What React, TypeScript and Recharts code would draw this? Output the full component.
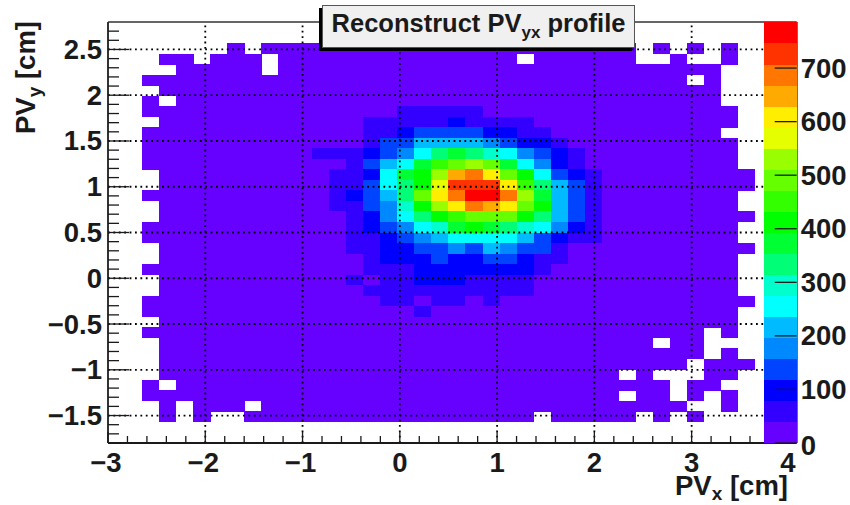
import React from "react";
import { ScatterChart, Scatter, XAxis, YAxis } from "recharts";

const WIDTH = 850, HEIGHT = 505;
const PLOT_LEFT = 108, PLOT_RIGHT = 796.7, PLOT_TOP = 22, PLOT_BOTTOM = 443;
const X_DOMAIN: [number, number] = [-3, 4.08];
const Y_DOMAIN: [number, number] = [-1.8, 2.8];
const Z_MAX = 786;
const PALETTE_X_START = 3.747;
const FONT = '"Liberation Sans", Arial, sans-serif';
const INK = "#1a1a1a";

const xMajorTicks = [-3, -2, -1, 0, 1, 2, 3, 4];
const xMinorTicks = [-2.8, -2.6, -2.4, -2.2, -1.8, -1.6, -1.4, -1.2, -0.8, -0.6, -0.4, -0.2, 0.2, 0.4, 0.6, 0.8, 1.2, 1.4, 1.6, 1.8, 2.2, 2.4, 2.6, 2.8, 3.2, 3.4, 3.6];
const yMajorTicks = [-1.5, -1, -0.5, 0, 0.5, 1, 1.5, 2, 2.5];
const yMinorTicks = [-1.7, -1.6, -1.4, -1.3, -1.2, -1.1, -0.9, -0.8, -0.7, -0.6, -0.4, -0.3, -0.2, -0.1, 0.1, 0.2, 0.3, 0.4, 0.6, 0.7, 0.8, 0.9, 1.1, 1.2, 1.3, 1.4, 1.6, 1.7, 1.8, 1.9, 2.1, 2.2, 2.3, 2.4, 2.6, 2.7];
const zTicks = [0, 100, 200, 300, 400, 500, 600, 700];
const xGridLines = [-2, -1, 0, 1, 2, 3];

const paletteColors = ["#6600ff", "#3300ff", "#0000ff", "#0044ff", "#0088ff", "#00bbff", "#00ffff", "#00ffcc", "#00ff77", "#00ff33", "#00ff00", "#33ff00", "#66ff00", "#99ff00", "#e6ff00", "#ffee00", "#ffaa00", "#ff7700", "#ff3300", "#ff0000"];

const X_BIN_START = -3, X_BIN = 0.175, Y_BIN_TOP = 2.8, Y_BIN = 0.115, FIRST_ROW = 2;

// entries per x bin, one row per y bin from the top; 0 = empty bin
const rowsTop: number[][] = [
  [0,0,0,0,0,0,0,20,0,20, 20,20,20,20,20,20,20,20,20,20, 20,20,20,20,20,20,20,20,20,20, 20,0,20,0,20,0,20,0,0,0],
  [0,0,0,20,20,0,20,20,20,0, 20,20,20,20,20,20,20,20,20,20, 20,20,20,20,0,20,20,20,20,20, 20,0,0,20,0,0,20,0,0,0],
  [0,0,0,0,20,20,20,20,20,0, 20,20,20,20,20,20,20,20,20,20, 20,20,20,20,20,20,20,20,20,20, 20,20,20,20,20,20,0,0,0,0],
  [0,0,20,20,20,20,20,20,20,20, 20,20,20,20,20,20,20,20,20,20, 20,20,20,20,20,20,20,20,20,20, 20,20,20,20,0,20,0,0,0,0],
  [0,0,0,20,20,20,20,20,20,20, 20,20,20,20,20,20,20,20,20,20, 20,20,20,20,20,20,20,20,20,20, 20,20,20,20,20,20,0,0,0,0],
  [0,0,20,0,20,20,20,20,20,20, 20,20,20,20,20,20,20,20,20,20, 20,20,20,20,20,20,20,20,20,20, 20,20,20,20,20,20,0,0,0,0],
  [0,0,20,20,20,20,20,20,20,20, 20,20,20,20,20,20,20,59,59,59, 59,59,20,20,20,20,20,20,20,20, 20,20,20,20,20,20,20,0,0,0],
  [0,0,0,20,20,20,20,20,20,20, 20,20,20,20,20,59,59,59,59,59, 98,59,59,59,59,20,20,20,20,20, 20,20,20,20,20,20,20,0,0,0],
];
const rowsCore: number[][] = [
  [0,0,20,20,20,20,20,20,20,20, 20,20,20,20,20,59,59,98,138,138, 138,138,98,98,59,59,20,20,20,20, 20,20,20,20,20,20,0,0,0,0],
  [0,0,20,20,20,20,20,20,20,20, 20,20,20,20,20,59,138,138,216,216, 216,216,177,138,98,98,59,20,20,20, 20,20,20,20,20,20,20,0,0,0],
  [0,0,20,20,20,20,20,20,20,20, 20,20,59,59,59,98,138,177,255,334, 373,334,295,255,177,138,98,59,20,20, 20,20,20,20,20,20,20,0,0,0],
  [0,0,20,20,20,20,20,20,20,20, 20,20,20,20,59,138,216,255,373,452, 491,531,491,373,255,177,98,59,20,20, 20,20,20,20,20,20,20,0,0,0],
  [0,0,0,20,20,20,20,20,20,20, 20,20,20,59,59,98,255,373,413,531, 649,688,609,491,413,255,138,98,59,20, 20,20,20,20,20,20,20,20,0,0],
  [0,0,0,20,20,20,20,20,20,20, 20,20,20,59,59,138,255,334,413,570, 727,727,727,609,452,334,216,138,59,20, 20,20,20,20,20,20,20,20,0,0],
  [0,0,20,20,20,20,20,20,20,20, 20,20,20,59,98,138,216,334,491,609, 688,767,767,688,531,373,216,138,59,20, 20,20,20,20,20,20,20,0,0,0],
  [0,0,0,20,20,20,20,20,20,20, 20,20,20,59,59,138,177,295,413,531, 609,688,649,609,491,413,216,138,59,20, 20,20,20,20,20,20,20,0,0,0],
  [0,0,0,20,20,20,20,20,20,20, 20,20,20,20,59,98,177,255,334,413, 452,491,491,491,413,334,216,138,59,20, 20,20,20,20,20,20,20,20,0,0],
  [0,0,20,20,20,20,20,20,20,20, 20,20,20,20,59,98,138,177,255,295, 373,413,373,334,295,255,177,98,59,20, 20,20,20,20,20,20,20,0,0,0],
  [0,0,20,20,20,20,20,20,20,20, 20,20,20,20,59,59,98,138,177,216, 255,255,255,255,216,138,98,59,59,20, 20,20,20,20,20,20,20,0,0,0],
  [0,0,0,20,20,20,20,20,20,20, 20,20,20,20,59,59,98,98,138,138, 177,138,216,177,138,138,59,20,20,20, 20,20,20,20,20,20,20,20,0,0],
  [0,0,0,20,20,20,20,20,20,20, 20,20,20,20,20,59,98,98,98,138, 98,98,138,138,98,59,59,20,20,20, 20,20,20,20,20,20,20,0,0,0],
  [0,0,20,20,20,20,20,20,20,20, 20,20,20,20,20,59,59,59,98,98, 98,98,98,98,98,59,20,20,20,20, 20,20,20,20,20,20,20,0,0,0],
  [0,0,0,20,20,20,20,20,20,20, 20,20,20,20,59,20,59,59,98,98, 98,59,59,59,59,20,20,20,20,20, 20,20,20,20,20,20,20,0,0,0],
  [0,0,0,20,20,20,20,20,20,20, 20,20,20,20,20,59,59,59,59,59, 59,59,59,59,59,20,20,20,20,20, 20,20,20,20,20,20,20,0,0,0],
  [0,0,20,20,20,20,20,20,20,20, 20,20,20,20,20,20,59,59,20,59, 59,20,59,20,20,20,20,20,20,20, 20,20,20,20,20,20,20,20,0,0],
  [0,0,20,20,20,20,20,20,20,20, 20,20,20,20,20,20,20,20,59,20, 20,20,20,20,20,20,20,20,20,20, 20,20,20,20,20,20,20,0,0,0],
];
const rowsBottom: number[][] = [
  [0,0,0,20,20,20,20,20,20,20, 20,20,20,20,20,20,20,20,20,20, 20,20,20,20,20,20,20,20,20,20, 20,20,20,20,20,20,20,0,0,0],
  [0,0,20,20,20,20,20,20,20,20, 20,20,20,20,20,20,20,20,20,20, 20,20,20,20,20,20,20,20,20,20, 20,20,20,20,20,0,20,0,0,0],
  [0,0,0,20,20,20,20,20,20,20, 20,20,20,20,20,20,20,20,20,20, 20,20,20,20,20,20,20,20,20,20, 20,20,0,20,20,0,0,0,0,0],
  [0,0,0,20,20,20,20,20,20,20, 20,20,20,20,20,20,20,20,20,20, 20,20,20,20,20,20,20,20,20,20, 20,20,20,20,20,0,20,0,0,0],
  [0,0,0,20,20,20,20,20,20,20, 20,20,20,20,20,20,20,20,20,20, 20,20,20,20,20,20,20,20,20,20, 20,20,20,20,0,20,20,20,0,0],
  [0,0,0,20,20,20,20,20,20,20, 20,20,20,20,20,20,20,20,20,20, 20,20,20,20,20,20,20,20,20,20, 0,20,0,0,0,20,20,0,0,0],
  [0,0,20,0,20,20,20,20,20,20, 20,20,20,20,20,20,20,20,20,20, 20,20,20,20,20,20,20,20,20,20, 20,20,20,0,20,20,0,0,0,0],
  [0,0,20,20,20,20,20,20,20,20, 20,20,20,20,20,20,20,20,20,20, 20,20,20,20,20,20,20,20,20,20, 0,20,20,0,20,0,20,0,0,0],
  [0,0,0,20,0,20,20,20,0,20, 20,20,20,20,20,20,20,20,20,20, 20,20,20,20,20,20,20,20,20,20, 20,20,20,20,0,0,20,0,0,0],
  [0,0,0,20,0,20,0,0,20,20, 20,20,20,20,20,20,20,20,20,20, 20,20,20,20,20,0,20,20,20,20, 20,0,20,0,20,0,0,0,0,0],
];

const countRows = [...rowsTop, ...rowsCore, ...rowsBottom];
const cells = countRows.flatMap((row, r) =>
  row
    .map((count, c) => ({
      x: X_BIN_START + X_BIN * (c + 0.5),
      y: Y_BIN_TOP - Y_BIN * (r + FIRST_ROW + 0.5),
      count,
    }))
    .filter((cell) => cell.count > 0)
);

const bandSize = Z_MAX / paletteColors.length;
const colorOf = (count: number) =>
  paletteColors[Math.min(paletteColors.length - 1, Math.floor(count / bandSize))];
const paletteBands = paletteColors.map((color, i) => ({
  x: (PALETTE_X_START + X_DOMAIN[1]) / 2,
  y: (i + 0.5) * bandSize,
  color,
}));

const pxPerX = (PLOT_RIGHT - PLOT_LEFT) / (X_DOMAIN[1] - X_DOMAIN[0]);
const pxPerY = (PLOT_BOTTOM - PLOT_TOP) / (Y_DOMAIN[1] - Y_DOMAIN[0]);
const cellW = X_BIN * pxPerX;
const cellH = Y_BIN * pxPerY;
const paletteW = (X_DOMAIN[1] - PALETTE_X_START) * pxPerX;
const paletteH = ((PLOT_BOTTOM - PLOT_TOP) * bandSize) / Z_MAX;

const CellShape = (p: any) => (
  <rect
    x={p.cx - cellW / 2}
    y={p.cy - cellH / 2}
    width={cellW + 0.4}
    height={cellH + 0.4}
    fill={colorOf(p.payload.count)}
    shapeRendering="crispEdges"
  />
);
const BandShape = (p: any) => (
  <rect
    x={p.cx - paletteW / 2}
    y={p.cy - paletteH / 2}
    width={paletteW}
    height={paletteH + 0.4}
    fill={p.payload.color}
    shapeRendering="crispEdges"
  />
);
const NoShape = () => null;

const labelStyle = { fontFamily: FONT, fontWeight: 700, fontSize: 27.5, fill: INK };
const DOTTED = { stroke: "#000", strokeWidth: 1.8, strokeDasharray: "1.8 3.6" };

const fmt = (v: number) => (v < 0 ? "\u2212" + Math.abs(v) : String(v));

const XTick = (p: any) => {
  const v = p.payload.value;
  const major = xMajorTicks.includes(v);
  const hidden = v > 3.7;
  return (
    <g>
      {!hidden && (
        <line x1={p.x} x2={p.x} y1={PLOT_BOTTOM} y2={PLOT_BOTTOM - (major ? 11 : 7)} stroke={INK} strokeWidth={1.3} />
      )}
      {major && (
        <text x={p.x - (v < 0 ? 2 : v === 4 ? 1 : 0)} y={PLOT_BOTTOM + 19} textAnchor="middle" dominantBaseline="central" {...labelStyle}>
          {fmt(v)}
        </text>
      )}
    </g>
  );
};

const YTick = (p: any) => {
  const v = p.payload.value;
  const major = yMajorTicks.includes(v);
  return (
    <g>
      <line x1={PLOT_LEFT} x2={PLOT_LEFT + (major ? 21 : 11)} y1={p.y} y2={p.y} stroke={INK} strokeWidth={1.3} />
      {major && (
        <text x={PLOT_LEFT - 6} y={p.y} textAnchor="end" dominantBaseline="central" {...labelStyle}>
          {fmt(v)}
        </text>
      )}
    </g>
  );
};

const ZTick = (p: any) => (
  <g>
    <line x1={PLOT_RIGHT - 22} x2={PLOT_RIGHT} y1={p.y} y2={p.y} stroke={INK} strokeWidth={1.3} />
    <text x={PLOT_RIGHT + 4} y={p.y + (p.payload.value === 0 ? 2 : 0)} textAnchor="start" dominantBaseline="central" {...labelStyle}>
      {p.payload.value}
    </text>
  </g>
);

const XTitle = () => (
  <text x={788} y={495} textAnchor="end" {...labelStyle}>
    PV<tspan dy={5} fontSize={19}>x</tspan>
    <tspan dy={-5}> [cm]</tspan>
  </text>
);

const YTitle = () => (
  <text transform="translate(35,21) rotate(-90)" textAnchor="end" {...labelStyle}>
    PV<tspan dy={6} fontSize={19}>y</tspan>
    <tspan dy={-6}> [cm]</tspan>
  </text>
);

const hGridData = yMajorTicks.map((y) => [{ x: X_DOMAIN[0], y }, { x: X_DOMAIN[1], y }]);
const vGridData = xGridLines.map((x) => [{ x, y: Y_DOMAIN[0] }, { x, y: Y_DOMAIN[1] }]);
const topFrame = [{ x: X_DOMAIN[0], y: Y_DOMAIN[1] }, { x: X_DOMAIN[1], y: Y_DOMAIN[1] }];

export default function App() {
  return (
    <div style={{ position: "absolute", left: 0, top: 0, width: WIDTH, height: HEIGHT, overflow: "hidden", background: "#fff" }}>
      <ScatterChart width={WIDTH} height={HEIGHT} margin={{ top: PLOT_TOP, right: 0, bottom: 0, left: 0 }}>
        <XAxis
          xAxisId="x"
          type="number"
          dataKey="x"
          domain={X_DOMAIN}
          ticks={[...xMajorTicks, ...xMinorTicks].sort((a, b) => a - b)}
          interval={0}
          height={HEIGHT - PLOT_BOTTOM}
          tickLine={false}
          tick={XTick}
          axisLine={{ stroke: INK, strokeWidth: 2 }}
          label={{ content: XTitle }}
        />
        <YAxis
          yAxisId="y"
          type="number"
          dataKey="y"
          domain={Y_DOMAIN}
          ticks={[...yMajorTicks, ...yMinorTicks].sort((a, b) => a - b)}
          interval={0}
          width={PLOT_LEFT}
          tickLine={false}
          tick={YTick}
          axisLine={{ stroke: "#333", strokeWidth: 2 }}
          label={{ content: YTitle }}
        />
        <YAxis
          yAxisId="z"
          orientation="right"
          type="number"
          dataKey="y"
          domain={[0, Z_MAX]}
          ticks={zTicks}
          interval={0}
          width={WIDTH - PLOT_RIGHT}
          tickLine={false}
          tick={ZTick}
          axisLine={{ stroke: "#333", strokeWidth: 2 }}
        />
        <Scatter xAxisId="x" yAxisId="y" data={cells} shape={CellShape} isAnimationActive={false} />
        {hGridData.map((d, i) => (
          <Scatter key={"h" + i} xAxisId="x" yAxisId="y" data={d} shape={NoShape} line={DOTTED} isAnimationActive={false} />
        ))}
        {vGridData.map((d, i) => (
          <Scatter key={"v" + i} xAxisId="x" yAxisId="y" data={d} shape={NoShape} line={DOTTED} isAnimationActive={false} />
        ))}
        <Scatter xAxisId="x" yAxisId="y" data={topFrame} shape={NoShape} line={{ stroke: "#333", strokeWidth: 1.6 }} isAnimationActive={false} />
        <Scatter xAxisId="x" yAxisId="z" data={paletteBands} shape={BandShape} isAnimationActive={false} />
      </ScatterChart>
      <div
        style={{
          position: "absolute",
          left: 322,
          top: 5,
          width: 313,
          height: 43,
          boxSizing: "border-box",
          background: "#f0f0f0",
          border: "1px solid #555",
          boxShadow: "-3px 3px 0 #000",
          fontFamily: FONT,
          fontWeight: 700,
          fontSize: 25.5,
          color: INK,
          textAlign: "center",
          lineHeight: "34px",
          whiteSpace: "pre",
        }}
      >
        Reconstruct PV<span style={{ fontSize: 17, position: "relative", top: 6, lineHeight: 0 }}>yx</span> profile
      </div>
    </div>
  );
}
